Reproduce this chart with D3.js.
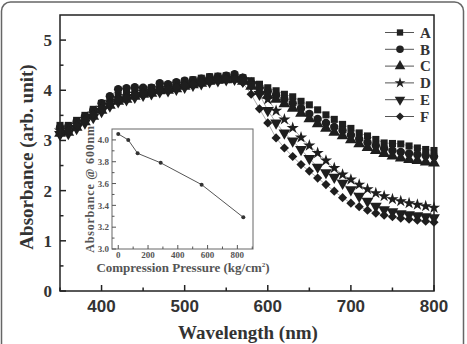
<!DOCTYPE html>
<html>
<head>
<meta charset="utf-8">
<script src="https://cdn.jsdelivr.net/npm/d3@7"></script>
<style>
  body { margin: 0; background: #fff; }
  svg { display: block; font-family: "Liberation Serif", "DejaVu Serif", serif; }
</style>
</head>
<body>
<svg id="chart" width="467" height="344"></svg>
<script>
// wavelengths (nm), 350..800 every 10 nm
const wavelengths = [350, 360, 370, 380, 390, 400, 410, 420, 430, 440, 450, 460, 470, 480, 490, 500,
    510, 520, 530, 540, 550, 560, 570, 580, 590, 600, 610, 620, 630, 640, 650, 660, 670, 680, 690, 700,
    710, 720, 730, 740, 750, 760, 770, 780, 790, 800];

const seriesA = [3.30, 3.30, 3.40, 3.50, 3.62, 3.74, 3.84, 3.90, 3.94, 3.99, 4.02, 4.05, 4.10, 4.10, 4.14, 4.18,
    4.21, 4.24, 4.27, 4.28, 4.29, 4.30, 4.25, 4.19, 4.12, 4.05, 3.99, 3.92, 3.87, 3.78, 3.71, 3.61, 3.51, 3.42, 3.32, 3.24,
    3.15, 3.09, 3.02, 2.95, 2.94, 2.93, 2.89, 2.85, 2.82, 2.80];
const seriesB = [3.26, 3.28, 3.38, 3.48, 3.60, 3.74, 3.88, 4.02, 4.04, 4.06, 4.05, 4.05, 4.14, 4.12, 4.16, 4.19,
    4.20, 4.23, 4.26, 4.27, 4.29, 4.32, 4.25, 4.15, 4.06, 3.98, 3.90, 3.82, 3.74, 3.64, 3.53, 3.43, 3.35, 3.27, 3.20, 3.11,
    3.03, 2.96, 2.90, 2.84, 2.80, 2.77, 2.74, 2.72, 2.70, 2.68];
const seriesC = [3.14, 3.16, 3.26, 3.37, 3.48, 3.60, 3.70, 3.78, 3.82, 3.88, 3.92, 3.94, 3.99, 4.00, 4.03, 4.08,
    4.11, 4.14, 4.18, 4.20, 4.21, 4.22, 4.18, 4.08, 3.98, 3.90, 3.82, 3.73, 3.64, 3.54, 3.43, 3.33, 3.24, 3.16, 3.09, 3.01,
    2.93, 2.86, 2.80, 2.74, 2.69, 2.65, 2.62, 2.60, 2.57, 2.55];
const seriesD = [3.20, 3.22, 3.32, 3.43, 3.54, 3.65, 3.76, 3.84, 3.88, 3.93, 3.97, 3.99, 4.04, 4.05, 4.08, 4.12,
    4.15, 4.18, 4.21, 4.23, 4.24, 4.25, 4.22, 4.14, 4.02, 3.82, 3.59, 3.42, 3.25, 3.06, 2.90, 2.75, 2.60, 2.45, 2.32, 2.22,
    2.12, 2.03, 1.95, 1.89, 1.83, 1.79, 1.75, 1.72, 1.69, 1.66];
const seriesE = [3.12, 3.14, 3.24, 3.35, 3.46, 3.58, 3.69, 3.77, 3.81, 3.86, 3.90, 3.93, 3.97, 3.99, 4.02, 4.06,
    4.10, 4.13, 4.17, 4.19, 4.21, 4.22, 4.18, 4.10, 3.92, 3.60, 3.35, 3.15, 2.99, 2.82, 2.64, 2.47, 2.36, 2.27, 2.15, 2.02,
    1.89, 1.79, 1.69, 1.62, 1.58, 1.54, 1.52, 1.50, 1.48, 1.46];
const seriesF = [3.18, 3.20, 3.30, 3.41, 3.52, 3.63, 3.74, 3.82, 3.86, 3.91, 3.95, 3.97, 4.02, 4.03, 4.06, 4.10,
    4.13, 4.16, 4.19, 4.21, 4.22, 4.22, 4.15, 3.92, 3.63, 3.35, 3.05, 2.85, 2.68, 2.52, 2.39, 2.25, 2.12, 1.99, 1.86, 1.75,
    1.68, 1.61, 1.55, 1.51, 1.48, 1.45, 1.43, 1.41, 1.39, 1.37];

const seriesNames = ['A', 'B', 'C', 'D', 'E', 'F'];
const seriesValues = [seriesA, seriesB, seriesC, seriesD, seriesE, seriesF];

const xTicks = [400, 500, 600, 700, 800];
const yTicks = [0, 1, 2, 3, 4, 5];

// inset: absorbance at 600 nm vs compression pressure
const pressure = [0, 67, 130, 285, 560, 840];
const absorb600 = [4.055, 4.0, 3.877, 3.79, 3.59, 3.29];
const insetXTicks = [0, 200, 400, 600, 800];
const insetYTicks = [3.0, 3.2, 3.4, 3.6, 3.8, 4.0];

const svg = d3.select('#chart');

// outer rounded frame
svg.append('rect')
    .attr('x', 1.5).attr('y', 2)
    .attr('width', 462).attr('height', 370)
    .attr('rx', 9)
    .attr('fill', 'none')
    .attr('stroke', '#666')
    .attr('stroke-width', 1.5);

const plot = { left: 60, top: 15, right: 434, bottom: 291 };

const x = d3.scaleLinear().domain([350, 800]).range([plot.left, plot.right]);
const y = d3.scaleLinear().domain([0, 5.5]).range([plot.bottom, plot.top]);

// series lines
const line = d3.line()
    .x((d, i) => x(wavelengths[i]))
    .y(d => y(d));

const gLines = svg.append('g').attr('class', 'lines');
gLines.selectAll('path')
    .data(seriesValues)
    .enter().append('path')
    .attr('d', d => line(d))
    .attr('fill', 'none')
    .attr('stroke', '#aaa')
    .attr('stroke-width', 1);

// marker shapes
const markerDefs = [
    { type: d3.symbolSquare, size: 50, rotate: 0 },
    { type: d3.symbolCircle, size: 56, rotate: 0 },
    { type: d3.symbolTriangle, size: 60, rotate: 0 },
    { type: d3.symbolStar, size: 46, rotate: 0 },
    { type: d3.symbolTriangle, size: 60, rotate: 180 },
    { type: d3.symbolSquare, size: 42, rotate: 45 },
];

function symbolPath(k, scale = 1) {
    return d3.symbol().type(markerDefs[k].type).size(markerDefs[k].size * scale)();
}

const gMarks = svg.append('g').attr('class', 'marks');
seriesValues.forEach((vals, k) => {
    gMarks.append('g')
        .selectAll('path')
        .data(vals)
        .enter().append('path')
        .attr('d', symbolPath(k))
        .attr('transform', (d, i) => `translate(${x(wavelengths[i])},${y(d)}) rotate(${markerDefs[k].rotate})`)
        .attr('fill', '#1e1e1e');
});

// axes (ticks inward)
const gXAxis = svg.append('g').attr('transform', `translate(0,${plot.bottom})`);
gXAxis.call(d3.axisBottom(x).tickValues([]).tickSizeOuter(0));
gXAxis.selectAll('.tick-in')
    .data(d3.range(350, 801, 50))
    .enter().append('line')
    .attr('x1', d => x(d)).attr('x2', d => x(d))
    .attr('y1', 0).attr('y2', d => (d % 100 === 0 ? -6 : -3.5))
    .attr('stroke', '#222').attr('stroke-width', 1.5);
gXAxis.selectAll('.lbl')
    .data(xTicks)
    .enter().append('text')
    .attr('x', d => x(d)).attr('y', 21)
    .attr('text-anchor', 'middle')
    .attr('font-size', 17).attr('font-weight', 'bold')
    .attr('fill', '#333')
    .text(d => d);

const gYAxis = svg.append('g').attr('transform', `translate(${plot.left},0)`);
gYAxis.selectAll('.tick-in')
    .data(d3.range(0, 5.01, 0.5))
    .enter().append('line')
    .attr('y1', d => y(d)).attr('y2', d => y(d))
    .attr('x1', 0).attr('x2', d => (d % 1 === 0 ? 6 : 3.5))
    .attr('stroke', '#222').attr('stroke-width', 1.5);
gYAxis.selectAll('.lbl')
    .data(yTicks)
    .enter().append('text')
    .attr('x', -8).attr('y', d => y(d))
    .attr('dy', '0.35em')
    .attr('text-anchor', 'end')
    .attr('font-size', 17).attr('font-weight', 'bold')
    .attr('fill', '#333')
    .text(d => d);

svg.append('rect')
    .attr('x', plot.left).attr('y', plot.top)
    .attr('width', plot.right - plot.left).attr('height', plot.bottom - plot.top)
    .attr('fill', 'none')
    .attr('stroke', '#222')
    .attr('stroke-width', 1.5);
svg.selectAll('.domain').remove();

svg.append('text')
    .attr('x', 248).attr('y', 339)
    .attr('text-anchor', 'middle')
    .attr('font-size', 19).attr('font-weight', 'bold')
    .attr('fill', '#333')
    .text('Wavelength (nm)');

svg.append('text')
    .attr('transform', `translate(33,${(plot.top + plot.bottom) / 2 + 4}) rotate(-90)`)
    .attr('text-anchor', 'middle')
    .attr('font-size', 19).attr('font-weight', 'bold')
    .attr('fill', '#333')
    .text('Absorbance (arb. unit)');

// legend
const legend = svg.append('g').attr('class', 'legend');
const legendItem = legend.selectAll('.item')
    .data(seriesNames)
    .enter().append('g')
    .attr('transform', (d, i) => `translate(400,${32.5 + i * 16.8})`);
legendItem.append('line')
    .attr('x1', -15).attr('x2', 14)
    .attr('stroke', '#555').attr('stroke-width', 1);
legendItem.append('path')
    .attr('d', (d, i) => symbolPath(i, 0.8))
    .attr('transform', (d, i) => `rotate(${markerDefs[i].rotate})`)
    .attr('fill', '#222');
legendItem.append('text')
    .attr('x', 20).attr('dy', '0.35em')
    .attr('font-size', 15).attr('font-weight', 'bold')
    .attr('fill', '#333')
    .text(d => d);

// inset
const inset = { left: 112, top: 129, right: 253, bottom: 249 };
const ix = d3.scaleLinear().domain([-42, 905]).range([inset.left, inset.right]);
const iy = d3.scaleLinear().domain([3.0, 4.1]).range([inset.bottom, inset.top]);

const gInset = svg.append('g').attr('class', 'inset');
gInset.append('rect')
    .attr('x', inset.left).attr('y', inset.top)
    .attr('width', inset.right - inset.left).attr('height', inset.bottom - inset.top)
    .attr('fill', '#fff')
    .attr('stroke', '#666')
    .attr('stroke-width', 1);

gInset.selectAll('.xt')
    .data(d3.range(0, 901, 100))
    .enter().append('line')
    .attr('x1', d => ix(d)).attr('x2', d => ix(d))
    .attr('y1', inset.bottom).attr('y2', d => inset.bottom - (d % 200 === 0 ? 4 : 2.5))
    .attr('stroke', '#555').attr('stroke-width', 1);
gInset.selectAll('.yt')
    .data(d3.range(0, 11).map(i => 3.0 + i * 0.1))
    .enter().append('line')
    .attr('y1', d => iy(d)).attr('y2', d => iy(d))
    .attr('x1', inset.left).attr('x2', (d, i) => inset.left + (i % 2 === 0 ? 4 : 2.5))
    .attr('stroke', '#555').attr('stroke-width', 1);

gInset.selectAll('.xl')
    .data(insetXTicks)
    .enter().append('text')
    .attr('x', d => ix(d)).attr('y', 258)
    .attr('text-anchor', 'middle')
    .attr('font-size', 9).attr('font-weight', 'bold')
    .attr('fill', '#555')
    .text(d => d);
gInset.selectAll('.yl')
    .data(insetYTicks)
    .enter().append('text')
    .attr('x', inset.left - 3).attr('y', d => iy(d))
    .attr('dy', '0.35em')
    .attr('text-anchor', 'end')
    .attr('font-size', 9).attr('font-weight', 'bold')
    .attr('fill', '#555')
    .text(d => d.toFixed(1));

const insetLine = d3.line()
    .x((d, i) => ix(pressure[i]))
    .y(d => iy(d));
gInset.append('path')
    .attr('d', insetLine(absorb600))
    .attr('fill', 'none')
    .attr('stroke', '#555')
    .attr('stroke-width', 1);
gInset.selectAll('circle')
    .data(absorb600)
    .enter().append('circle')
    .attr('cx', (d, i) => ix(pressure[i]))
    .attr('cy', d => iy(d))
    .attr('r', 2)
    .attr('fill', '#333');

const xLabel = gInset.append('text')
    .attr('x', 183).attr('y', 272)
    .attr('text-anchor', 'middle')
    .attr('font-size', 13).attr('font-weight', 'bold')
    .attr('fill', '#555');
xLabel.append('tspan').text('Compression Pressure (kg/cm');
xLabel.append('tspan').attr('dy', -5).attr('font-size', 7).text('2');
xLabel.append('tspan').attr('dy', 5).text(')');

gInset.append('text')
    .attr('transform', `translate(94,${(inset.top + inset.bottom) / 2}) rotate(-90)`)
    .attr('text-anchor', 'middle')
    .attr('font-size', 12).attr('font-weight', 'bold')
    .attr('letter-spacing', 0.8)
    .attr('fill', '#555')
    .text('Absorbance @ 600nm');
</script>
</body>
</html>
